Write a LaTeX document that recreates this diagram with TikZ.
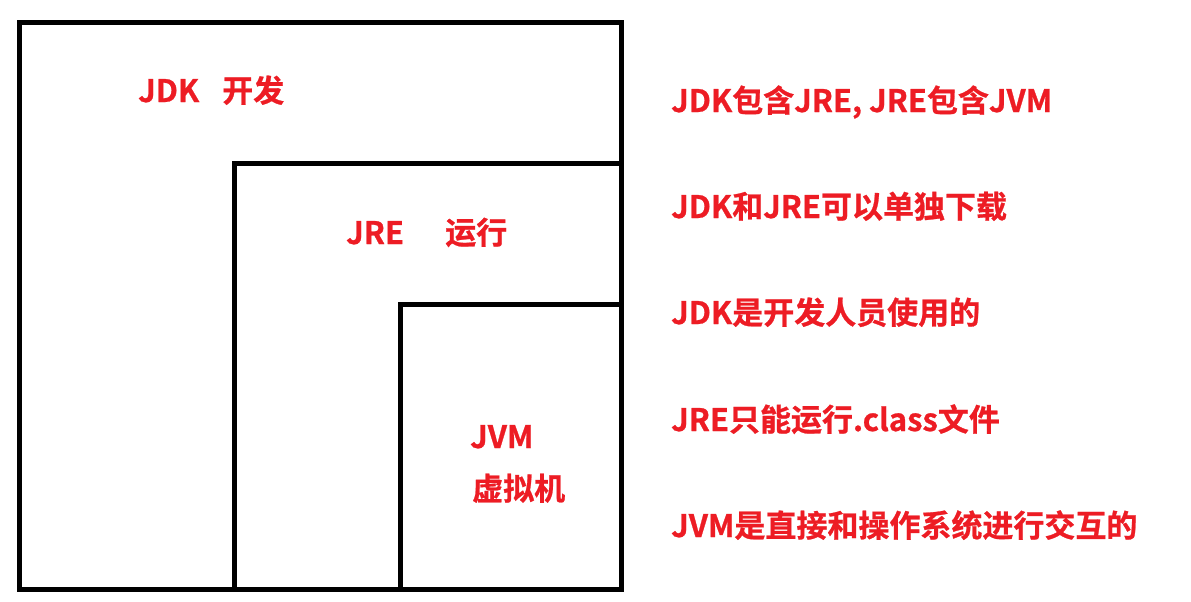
\documentclass[tikz,border=0pt]{standalone}
\usepackage{fontspec}
\setmainfont{Noto Sans CJK SC}[BoldFont={* Bold}]
\newfontfamily\cjkb{Noto Sans CJK SC Bold}[FakeBold=0.8]
\definecolor{txtred}{RGB}{237,28,36}
\begin{document}
\begin{tikzpicture}[x=1pt,y=-1pt,
  frame/.style={draw=black, line width=5pt},
  lbl/.style={text=txtred, font=\cjkb\fontsize{31}{33}\selectfont, inner sep=0pt, anchor=base west}]
\useasboundingbox[fill=white] (0,0) rectangle (1191,602);
% nested boxes
\draw[frame] (19,23) rectangle (621,589);
\draw[frame] (234.5,163.5) rectangle (621,589);
\draw[frame] (400.5,304.5) rectangle (621,589);
% box labels
\node[lbl] (jdk) at (138,102) {JDK};
\node[lbl] (jdkcn) at (222,102) {开发};
\node[lbl] (jre) at (346,244) {JRE};
\node[lbl] (jrecn) at (445,244) {运行};
\node[lbl] (jvm) at (470,448) {JVM};
\node[lbl] (jvmcn) at (472,500) {虚拟机};
% notes
\node[lbl] (n1) at (671,112) {JDK包含JRE, JRE包含JVM};
\node[lbl] (n2) at (671,218) {JDK和JRE可以单独下载};
\node[lbl] (n3) at (671,324) {JDK是开发人员使用的};
\node[lbl] (n4) at (671,431) {JRE只能运行.class文件};
\node[lbl] (n5) at (671,537) {JVM是直接和操作系统进行交互的};
\end{tikzpicture}
\end{document}
